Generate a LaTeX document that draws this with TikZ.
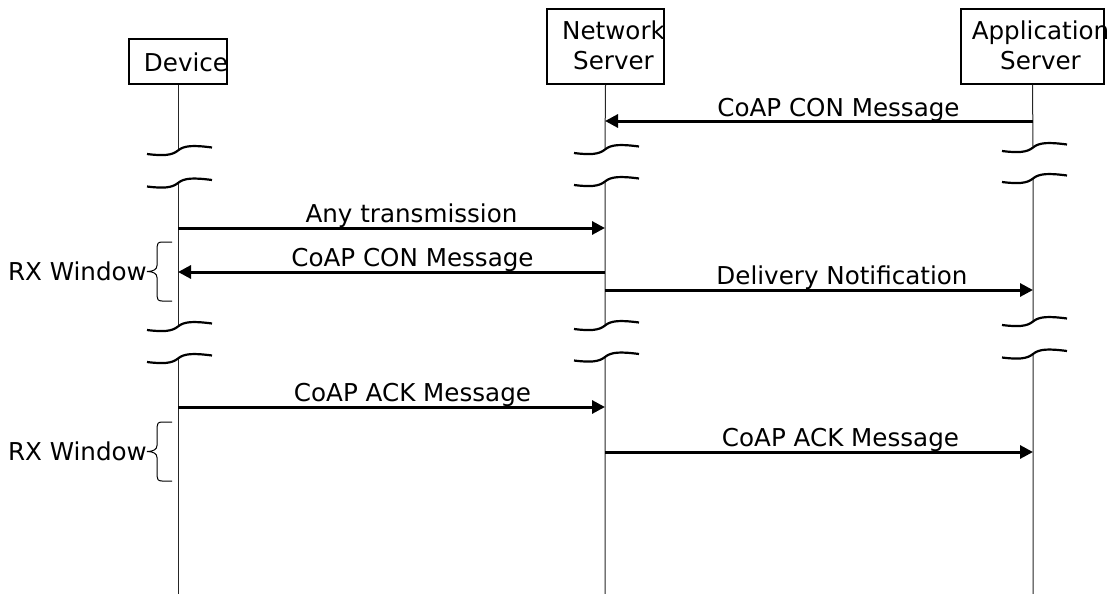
\documentclass[tikz,border=0pt]{standalone}
\usepackage{fontspec}
\setmainfont{DejaVu Sans}
\usetikzlibrary{arrows.meta}
\newcommand\brkmark[2]{\draw[brkline] (#1-31,#2+3.5) .. controls (#1-15,#2+5.5) and (#1-6,#2+5) .. (#1,#2) .. controls (#1+6,#2-5) and (#1+15,#2-5.5) .. (#1+34,#2-3);}
\newcommand\rxbrace[1]{\draw[braceline] (172,#1-29.5) -- (162,#1-29.5) .. controls (158,#1-29.5) and (157,#1-27.5) .. (157,#1-24.5) -- (157,#1-6) .. controls (157,#1-2) and (153,#1) .. (147,#1) .. controls (153,#1) and (157,#1+2) .. (157,#1+6) -- (157,#1+24.5) .. controls (157,#1+27.5) and (158,#1+29.5) .. (162,#1+29.5) -- (172,#1+29.5);}
\begin{document}
\begin{tikzpicture}[x=1pt,y=-1pt,
  box/.style={draw,line width=1.5pt,inner sep=0pt},
  txt/.style={font=\fontsize{24.6}{28}\selectfont,inner sep=0pt,anchor=base},
  life/.style={line width=1pt,draw=black!85},
  msg/.style={line width=3pt,-{Triangle[length=13pt,width=13pt]}},
  brkline/.style={line width=2.2pt},
  braceline/.style={line width=1pt}]
\useasboundingbox (0,0) rectangle (1116,594);

% heads
\node[box,minimum width=98pt,minimum height=45pt] (devbox) at (178,61.5) {};
\node[box,minimum width=117pt,minimum height=75pt] (nsbox) at (605.5,46.5) {};
\node[box,minimum width=143pt,minimum height=75pt] (asbox) at (1032.5,46.5) {};
\node[txt] (devt) at (186,71) {Device};
\node[txt] (nst1) at (613.5,40) {Network};
\node[txt] (nst2) at (613.5,70) {Server};
\node[txt] (ast1) at (1040.5,40) {Application};
\node[txt] (ast2) at (1040.5,70) {Server};

% lifeline coordinates
\coordinate (dA) at (178,150.5); \coordinate (dB) at (178,183);
\coordinate (dC) at (178,326.5); \coordinate (dD) at (178,358.5);
\coordinate (dE) at (178,594);
\coordinate (nA) at (605,149.5); \coordinate (nB) at (605,181.5);
\coordinate (nC) at (605,325.5); \coordinate (nD) at (605,357);
\coordinate (nE) at (605,594);
\coordinate (aA) at (1033,147.5); \coordinate (aB) at (1033,178.5);
\coordinate (aC) at (1033,321.5); \coordinate (aD) at (1033,354);
\coordinate (aE) at (1033,594);

\draw[life] (devbox.south) -- (dA) (dB) -- (dC) (dD) -- (dE);
\draw[life] (nsbox.south) -- (nA) (nB) -- (nC) (nD) -- (nE);
\draw[life] (asbox.south) -- (aA) (aB) -- (aC) (aD) -- (aE);

% break marks
\brkmark{178}{150.5} \brkmark{178}{183} \brkmark{178}{326.5} \brkmark{178}{358.5}
\brkmark{605}{149.5} \brkmark{605}{181.5} \brkmark{605}{325.5} \brkmark{605}{357}
\brkmark{1033}{147.5} \brkmark{1033}{178.5} \brkmark{1033}{321.5} \brkmark{1033}{354}

% message end points
\coordinate (a1) at (1033,121); \coordinate (n1) at (605,121);
\coordinate (d2) at (178,228);  \coordinate (n2) at (605,228);
\coordinate (n3) at (605,272);  \coordinate (d3) at (178,272);
\coordinate (n4) at (605,290);  \coordinate (a4) at (1033,290);
\coordinate (d5) at (178,407);  \coordinate (n5) at (605,407);
\coordinate (n6) at (605,452);  \coordinate (a6) at (1033,452);

\draw[msg] (a1) -- (n1);
\draw[msg] (d2) -- (n2);
\draw[msg] (n3) -- (d3);
\draw[msg] (n4) -- (a4);
\draw[msg] (d5) -- (n5);
\draw[msg] (n6) -- (a6);

\node[txt] (l1) at (838.5,116) {CoAP CON Message};
\node[txt] (l2) at (411.5,222) {Any transmission};
\node[txt] (l3) at (412.5,266) {CoAP CON Message};
\node[txt] (l4) at (842,284) {Delivery Notification};
\node[txt] (l5) at (412.5,401) {CoAP ACK Message};
\node[txt] (l6) at (840.5,446) {CoAP ACK Message};

% RX windows
\rxbrace{271.5}
\rxbrace{451.5}
\node[txt,anchor=base east] (rx1) at (147,280) {RX Window};
\node[txt,anchor=base east] (rx2) at (147,460) {RX Window};
\end{tikzpicture}
\end{document}
